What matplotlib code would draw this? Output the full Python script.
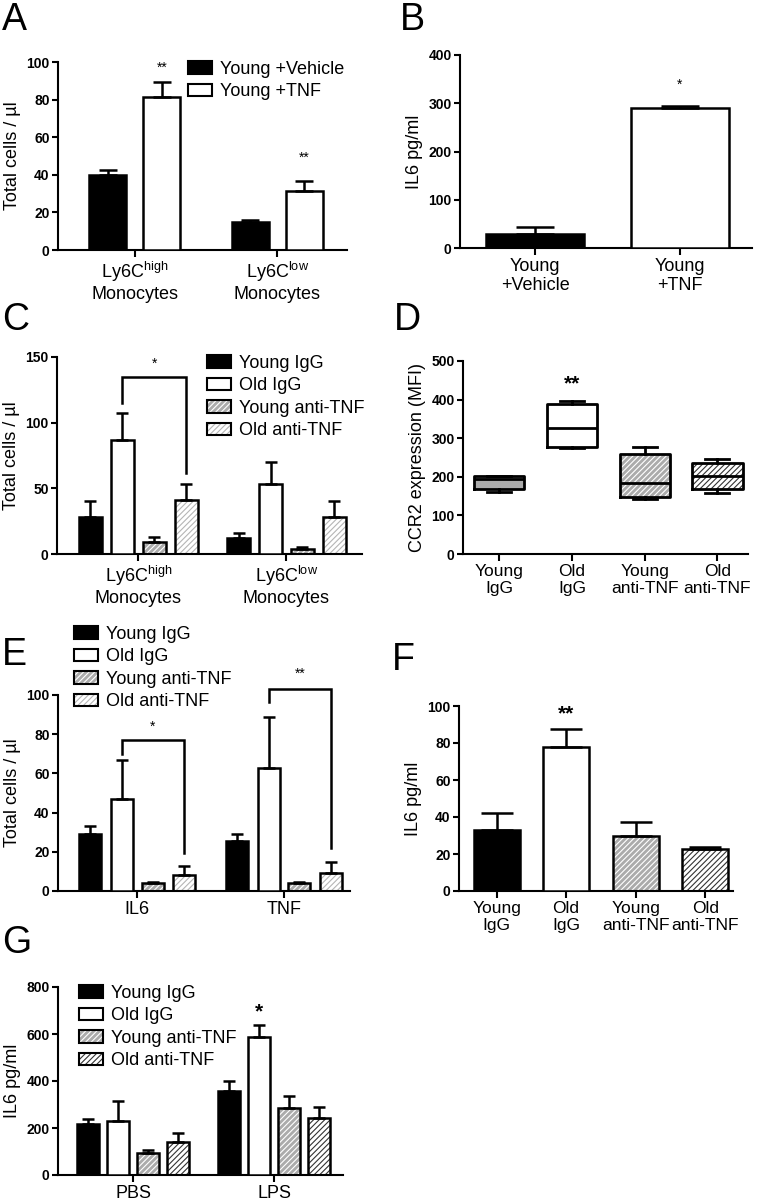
import numpy as np
import matplotlib
matplotlib.use('Agg')
import matplotlib.pyplot as plt
from matplotlib.patches import Patch
from matplotlib.legend_handler import HandlerTuple

plt.rcParams['font.family'] = ['Liberation Sans', 'DejaVu Sans']
plt.rcParams['mathtext.fontset'] = 'custom'
plt.rcParams['mathtext.rm'] = 'Liberation Sans'
plt.rcParams['hatch.linewidth'] = 0.8

# ---- data ----
mono_labels = ['Ly6C$^{\\mathrm{high}}$\nMonocytes', 'Ly6C$^{\\mathrm{low}}$\nMonocytes']

# A
a_vehicle = [40, 15]
a_vehicle_err = [2.5, 0.8]
a_tnf = [81.5, 31.5]
a_tnf_err = [8, 5]

# B
b_labels = ['Young\n+Vehicle', 'Young\n+TNF']
b_vals = [30, 290]
b_err = [13, 5]

# C
c_young_igg = [28, 12]
c_young_igg_err = [12.5, 4]
c_old_igg = [87, 53]
c_old_igg_err = [20, 17]
c_young_anti = [9, 4]
c_young_anti_err = [4, 1.5]
c_old_anti = [41, 28]
c_old_anti_err = [12, 12]

# D (box plot stats)
d_labels = ['Young\nIgG', 'Old\nIgG', 'Young\nanti-TNF', 'Old\nanti-TNF']
d_min = [160, 274, 142, 158]
d_q1 = [168, 277, 148, 168]
d_med = [195, 326, 184, 202]
d_q3 = [201, 389, 259, 236]
d_max = [202, 396, 277, 246]

# E
e_groups = ['IL6', 'TNF']
e_young_igg = [29, 25.5]
e_young_igg_err = [4, 3.5]
e_old_igg = [47, 63]
e_old_igg_err = [20, 26]
e_young_anti = [4, 4]
e_young_anti_err = [0.7, 0.8]
e_old_anti = [8, 9]
e_old_anti_err = [5, 6]

# F
f_labels = ['Young\nIgG', 'Old\nIgG', 'Young\nanti-TNF', 'Old\nanti-TNF']
f_vals = [33, 78, 30, 22.5]
f_err = [9, 9.5, 7.5, 1.5]

# G
g_groups = ['PBS', 'LPS']
g_young_igg = [217, 357]
g_young_igg_err = [20, 43]
g_old_igg = [230, 587]
g_old_igg_err = [85, 50]
g_young_anti = [95, 287]
g_young_anti_err = [13, 48]
g_old_anti = [140, 242]
g_old_anti_err = [38, 46]

legend4 = ['Young IgG', 'Old IgG', 'Young anti-TNF', 'Old anti-TNF']

W, H = 757, 1200
fig = plt.figure(figsize=(W / 100, H / 100), dpi=100)

GRAY = '#ababab'
# (face, hatch, hatch colour)
st_black = ('black', None, None)
st_white = ('white', None, None)
st_yanti = (GRAY, '//////', 'white')
st_oanti_light = ('white', '//////', '#b5b5b5')
st_oanti_dark = ('white', '//////', '#333333')


def make_ax(left, right, top, bottom):
    ax = fig.add_axes([left / W, 1 - bottom / H, (right - left) / W, (bottom - top) / H])
    for s in ['top', 'right']:
        ax.spines[s].set_visible(False)
    for s in ['left', 'bottom']:
        ax.spines[s].set_linewidth(1.5)
    ax.tick_params(axis='y', length=4, width=1.5, labelsize=10, pad=2)
    ax.tick_params(axis='x', length=5, width=1.5, labelsize=13, pad=2)
    return ax


def bold_y(ax, ticks):
    ax.set_yticks(ticks)
    ax.set_yticklabels([str(t) for t in ticks], fontweight='bold', fontsize=10)


def draw_bars(ax, x, h, err, w, style, cs):
    face, hatch, hc = style
    if hatch:
        ax.bar(x, h, w, color=face, hatch=hatch, edgecolor=hc, linewidth=0, zorder=2)
        ax.bar(x, h, w, fill=False, edgecolor='black', linewidth=1.8, zorder=3)
    else:
        ax.bar(x, h, w, color=face, edgecolor='black', linewidth=1.8, zorder=3)
    ax.errorbar(x, h, yerr=[np.zeros(len(h)), err], fmt='none', ecolor='black',
                elinewidth=1.8, capsize=cs, capthick=1.8, zorder=4)


def handle(style):
    face, hatch, hc = style
    edge = Patch(fill=False, edgecolor='black', linewidth=1.5)
    if hatch:
        return (Patch(facecolor=face, hatch=hatch, edgecolor=hc, linewidth=0), edge)
    return (Patch(facecolor=face, edgecolor='none'), edge)


def put_legend(ax, styles, labels, x, y):
    ax.legend([handle(s) for s in styles], labels, loc='upper left',
              bbox_to_anchor=(x / W, 1 - y / H), bbox_transform=fig.transFigure,
              frameon=False, borderpad=0, borderaxespad=0, fontsize=13,
              handlelength=1.35, handleheight=0.7, handletextpad=0.4,
              labelspacing=0.3, handler_map={tuple: HandlerTuple(ndivide=1, pad=0)})


def letter(ch, x, y):
    fig.text(x / W, 1 - y / H, ch, fontsize=27, va='top', ha='left')


def bracket(ax, x1, x2, y, y1, y2, txt, ty, fs=10):
    ax.plot([x1, x1, x2, x2], [y1, y, y, y2], color='black', lw=1.8, clip_on=False,
            solid_joinstyle='miter')
    ax.text((x1 + x2) / 2, ty, txt, ha='center', va='center', fontsize=fs)


# ---- A ----
ax = make_ax(58, 347, 62, 250)
x = np.arange(2)
draw_bars(ax, x - 0.19, a_vehicle, a_vehicle_err, 0.26, st_black, 6.5)
draw_bars(ax, x + 0.19, a_tnf, a_tnf_err, 0.26, st_white, 6.5)
ax.set_xlim(-0.54, 1.49)
ax.set_ylim(0, 100)
bold_y(ax, [0, 20, 40, 60, 80, 100])
ax.set_xticks(x)
ax.set_xticklabels(mono_labels)
ax.set_ylabel('Total cells / µl', fontsize=13, labelpad=4)
for xi, yi in zip(x + 0.19, [97, 49]):
    ax.text(xi, yi, '**', ha='center', va='center', fontsize=10)
put_legend(ax, [st_black, st_white], ['Young +Vehicle', 'Young +TNF'], 188, 61)
letter('A', 2, 2)

# ---- B ----
ax = make_ax(460, 752, 55, 248)
x = np.arange(2)
face = [st_black, st_white]
for i in range(2):
    draw_bars(ax, [x[i]], [b_vals[i]], [b_err[i]], 0.68, face[i], 14)
ax.set_xlim(-0.52, 1.5)
ax.set_ylim(0, 400)
bold_y(ax, [0, 100, 200, 300, 400])
ax.set_xticks(x)
ax.set_xticklabels(b_labels)
ax.set_ylabel('IL6 pg/ml', fontsize=13, labelpad=4)
ax.text(1, 338, '*', ha='center', va='center', fontsize=10)
letter('B', 400, 2)

# ---- C ----
ax = make_ax(57, 362, 357, 554)
x = np.arange(2)
offs = [-0.324, -0.108, 0.108, 0.324]
bw = 0.15
draw_bars(ax, x + offs[0], c_young_igg, c_young_igg_err, bw, st_black, 4.3)
draw_bars(ax, x + offs[1], c_old_igg, c_old_igg_err, bw, st_white, 4.3)
draw_bars(ax, x + offs[2], c_young_anti, c_young_anti_err, bw, st_yanti, 4.3)
draw_bars(ax, x + offs[3], c_old_anti, c_old_anti_err, bw, st_oanti_light, 4.3)
ax.set_xlim(-0.55, 1.51)
ax.set_ylim(0, 150)
bold_y(ax, [0, 50, 100, 150])
ax.set_xticks(x)
ax.set_xticklabels(mono_labels)
ax.set_ylabel('Total cells / µl', fontsize=13, labelpad=4)
bracket(ax, offs[1], offs[3], 135, 115, 62, '*', 145)
put_legend(ax, [st_black, st_white, st_yanti, st_oanti_light], legend4, 207, 355)
letter('C', 2, 302)

# ---- D ----
ax = make_ax(463, 748, 361, 554)
pos = np.arange(4)
d_styles = [(GRAY, None, None), st_white, st_yanti, st_oanti_dark]
for i in range(4):
    f, h, hc = d_styles[i]
    if h:
        ax.bar(pos[i], d_q3[i] - d_q1[i], 0.69, bottom=d_q1[i], color=f, hatch=h,
               edgecolor=hc, linewidth=0, zorder=1)
    else:
        ax.bar(pos[i], d_q3[i] - d_q1[i], 0.69, bottom=d_q1[i], color=f,
               linewidth=0, zorder=1)
stats = [dict(whislo=d_min[i], q1=d_q1[i], med=d_med[i], q3=d_q3[i], whishi=d_max[i])
         for i in range(4)]
lp = dict(color='black', linewidth=2)
ax.bxp(stats, positions=pos, widths=0.69, capwidths=0.33, showfliers=False,
       boxprops=lp, whiskerprops=lp, capprops=lp, medianprops=lp, manage_ticks=False)
ax.set_xlim(-0.5, 3.42)
ax.set_ylim(0, 500)
bold_y(ax, [0, 100, 200, 300, 400, 500])
ax.set_xticks(pos)
ax.set_xticklabels(d_labels, fontsize=12.5)
ax.set_ylabel('CCR2 expression (MFI)', fontsize=13, labelpad=4)
ax.text(1, 440, '**', ha='center', va='center', fontsize=15, fontweight='bold')
letter('D', 394, 302)

# ---- E ----
ax = make_ax(58, 350, 695, 891)
x = np.arange(2)
offs = [-0.32, -0.105, 0.105, 0.32]
bw = 0.15
draw_bars(ax, x + offs[0], e_young_igg, e_young_igg_err, bw, st_black, 4.3)
draw_bars(ax, x + offs[1], e_old_igg, e_old_igg_err, bw, st_white, 4.3)
draw_bars(ax, x + offs[2], e_young_anti, e_young_anti_err, bw, st_yanti, 4.3)
draw_bars(ax, x + offs[3], e_old_anti, e_old_anti_err, bw, st_oanti_light, 4.3)
ax.set_xlim(-0.54, 1.45)
ax.set_ylim(0, 100)
bold_y(ax, [0, 20, 40, 60, 80, 100])
ax.set_xticks(x)
ax.set_xticklabels(e_groups)
ax.set_ylabel('Total cells / µl', fontsize=13, labelpad=4)
bracket(ax, offs[1], offs[3], 77, 70, 19.5, '*', 84)
bracket(ax, 1 + offs[1], 1 + offs[3], 103, 96.6, 22, '**', 111)
put_legend(ax, [st_black, st_white, st_yanti, st_oanti_light], legend4, 74, 626)
letter('E', 2, 637)

# ---- F ----
ax = make_ax(459, 733, 706, 891)
pos = np.arange(4)
f_styles = [st_black, st_white, st_yanti, st_oanti_dark]
for i in range(4):
    draw_bars(ax, [pos[i]], [f_vals[i]], [f_err[i]], 0.66, f_styles[i], 11.5)
ax.set_xlim(-0.54, 3.40)
ax.set_ylim(0, 100)
bold_y(ax, [0, 20, 40, 60, 80, 100])
ax.set_xticks(pos)
ax.set_xticklabels(f_labels, fontsize=12.5)
ax.set_ylabel('IL6 pg/ml', fontsize=13, labelpad=4)
ax.text(1, 96, '**', ha='center', va='center', fontsize=15, fontweight='bold')
letter('F', 392, 642)

# ---- G ----
ax = make_ax(58, 343, 987, 1175)
x = np.arange(2)
offs = [-0.32, -0.106, 0.106, 0.32]
bw = 0.156
draw_bars(ax, x + offs[0], g_young_igg, g_young_igg_err, bw, st_black, 4.3)
draw_bars(ax, x + offs[1], g_old_igg, g_old_igg_err, bw, st_white, 4.3)
draw_bars(ax, x + offs[2], g_young_anti, g_young_anti_err, bw, st_yanti, 4.3)
draw_bars(ax, x + offs[3], g_old_anti, g_old_anti_err, bw, st_oanti_dark, 4.3)
ax.set_xlim(-0.535, 1.49)
ax.set_ylim(0, 800)
bold_y(ax, [0, 200, 400, 600, 800])
ax.set_xticks(x)
ax.set_xticklabels(g_groups)
ax.set_ylabel('IL6 pg/ml', fontsize=13, labelpad=4)
ax.text(1 + offs[1], 695, '*', ha='center', va='center', fontsize=15, fontweight='bold')
put_legend(ax, [st_black, st_white, st_yanti, st_oanti_dark], legend4, 79, 985)
letter('G', 2, 925)

fig.savefig('out.png', dpi=100)
